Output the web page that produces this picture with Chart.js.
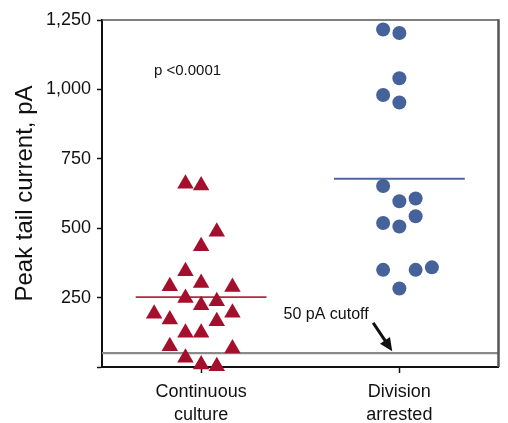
<!DOCTYPE html>
<html>
<head>
<meta charset="utf-8">
<script src="https://cdn.jsdelivr.net/npm/chart.js@4/dist/chart.umd.min.js"></script>
<style>
  html, body { margin: 0; padding: 0; background: #fff; }
  #wrap { width: 508px; height: 423px; }
</style>
</head>
<body>
<div id="wrap"><canvas id="chart"></canvas></div>
<script>
const categories = [["Continuous", "culture"], ["Division", "arrested"]];
const categoryPos = [0.5, 1.5];
const yTicks = [0, 250, 500, 750, 1000, 1250];

// peak tail current (pA) per cell, with the scatter column each point sits in
const continuousValues = [660, 654, 487, 435, 345, 291, 303, 288, 249, 222, 237, 192, 171, 195, 165, 123, 123, 75, 67, 33, 9, 3];
const continuousCols   = [-1, 0, 1, 0, -1, -2, 0, 2, -1, 0, 1, -3, -2, 2, 1, -1, 0, -2, 2, -1, 0, 1];
const arrestedValues = [1216, 1203, 1040, 980, 953, 652, 597, 607, 519, 506, 543, 350, 350, 359, 283];
const arrestedCols   = [-1, 0, 0, -1, 0, -1, 0, 1, -1, 0, 1, -1, 1, 2, 0];

const means = [252, 678];
const cutoff = 50;

// annotations: [x, y] in data units
const pLabel = { text: "p <0.0001", x: 0.262, y: 1065 };
const cutoffLabel = { text: "50 pA cutoff", x: 0.916, y: 189 };
const arrowFrom = [1.368, 159];
const arrowTo = [1.464, 57];

const colStep = [0.079, 0.082];
const meanHalf = 0.33;
const red = "#a50f2d";
const blue = "#45629a";
const font = "'Liberation Sans', Arial, Helvetica, sans-serif";

const toPoints = (vals, cols, g) =>
  vals.map((v, i) => ({ x: categoryPos[g] + cols[i] * colStep[g], y: v }));

const frame = {
  id: "frame",
  afterDatasetsDraw(chart) {
    const { ctx, chartArea: a, scales } = chart;
    ctx.save();
    ctx.strokeStyle = "#555";
    ctx.lineWidth = 1.5;
    ctx.beginPath();
    ctx.moveTo(a.left, a.top);
    ctx.lineTo(a.right, a.top);
    ctx.stroke();
    ctx.lineWidth = 2.5;
    ctx.beginPath();
    ctx.moveTo(a.right, a.top - 0.75);
    ctx.lineTo(a.right, a.bottom);
    ctx.stroke();

    const px = v => scales.x.getPixelForValue(v);
    const py = v => scales.y.getPixelForValue(v);
    ctx.fillStyle = "#111";
    ctx.textBaseline = "middle";
    ctx.textAlign = "left";
    ctx.font = "15px " + font;
    ctx.fillText(pLabel.text, px(pLabel.x), py(pLabel.y));
    ctx.font = "16px " + font;
    ctx.fillText(cutoffLabel.text, px(cutoffLabel.x), py(cutoffLabel.y));

    const x1 = px(arrowFrom[0]), y1 = py(arrowFrom[1]);
    const x2 = px(arrowTo[0]), y2 = py(arrowTo[1]);
    const ang = Math.atan2(y2 - y1, x2 - x1);
    const hl = 13, hw = 6;
    ctx.strokeStyle = "#111";
    ctx.lineWidth = 3;
    ctx.beginPath();
    ctx.moveTo(x1, y1);
    ctx.lineTo(x2 - Math.cos(ang) * hl * 0.8, y2 - Math.sin(ang) * hl * 0.8);
    ctx.stroke();
    ctx.beginPath();
    ctx.moveTo(x2, y2);
    ctx.lineTo(x2 - Math.cos(ang) * hl - Math.sin(ang) * hw, y2 - Math.sin(ang) * hl + Math.cos(ang) * hw);
    ctx.lineTo(x2 - Math.cos(ang) * hl + Math.sin(ang) * hw, y2 - Math.sin(ang) * hl - Math.cos(ang) * hw);
    ctx.closePath();
    ctx.fill();
    ctx.restore();
  }
};

new Chart(document.getElementById("chart"), {
  type: "scatter",
  data: {
    datasets: [
      {
        data: toPoints(continuousValues, continuousCols, 0),
        pointStyle: "triangle", pointRadius: 9.5, pointHoverRadius: 9.5,
        backgroundColor: red, borderWidth: 0, clip: false, order: 1
      },
      {
        data: toPoints(arrestedValues, arrestedCols, 1),
        pointStyle: "circle", pointRadius: 7, pointHoverRadius: 7,
        backgroundColor: blue, borderWidth: 0, clip: false, order: 1
      },
      {
        type: "line",
        data: [{ x: categoryPos[0] - meanHalf, y: means[0] }, { x: categoryPos[0] + meanHalf, y: means[0] }],
        borderColor: "#b52a43", borderWidth: 1.8, pointRadius: 0, order: 2
      },
      {
        type: "line",
        data: [{ x: categoryPos[1] - meanHalf, y: means[1] }, { x: categoryPos[1] + meanHalf, y: means[1] }],
        borderColor: "#4b68a0", borderWidth: 2, pointRadius: 0, order: 2
      },
      {
        type: "line",
        data: [{ x: 0, y: cutoff }, { x: 2, y: cutoff }],
        borderColor: "#8a8a8a", borderWidth: 2.2, pointRadius: 0, order: 3
      }
    ]
  },
  options: {
    responsive: true,
    maintainAspectRatio: false,
    animation: false,
    layout: { padding: { top: 20, right: 2, left: 0, bottom: 0 } },
    plugins: { legend: { display: false }, tooltip: { enabled: false } },
    scales: {
      x: {
        type: "linear", min: 0, max: 2,
        afterBuildTicks: s => { s.ticks = categoryPos.map(v => ({ value: v })); },
        afterFit: s => { s.height = 56; },
        ticks: {
          callback: (v) => categories[categoryPos.indexOf(v)] || "",
          color: "#111", font: { family: font, size: 18, lineHeight: 1.25 }, padding: 8, maxRotation: 0
        },
        grid: { drawOnChartArea: false, tickLength: 6, tickColor: "#111", tickWidth: 1.5 },
        border: { color: "#111", width: 2 }
      },
      y: {
        min: 0, max: 1250,
        afterBuildTicks: s => { s.ticks = yTicks.map(v => ({ value: v })); },
        afterFit: s => { s.width = 102; },
        ticks: {
          callback: v => v === 0 ? "" : v.toLocaleString("en-US"),
          color: "#111", font: { family: font, size: 18 }, padding: 6
        },
        grid: { drawOnChartArea: false, tickLength: 5, tickColor: "#111", tickWidth: 1.5 },
        border: { color: "#111", width: 2 },
        title: {
          display: true, text: "Peak tail current, pA", color: "#111",
          font: { family: font, size: 24 }, padding: { top: 11, bottom: 6 }
        }
      }
    }
  },
  plugins: [frame]
});
</script>
</body>
</html>
